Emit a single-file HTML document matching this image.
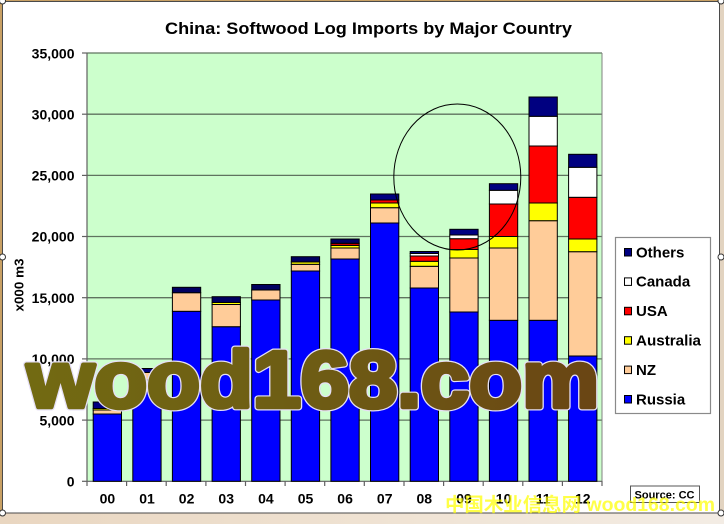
<!DOCTYPE html>
<html><head><meta charset="utf-8"><style>
html,body{margin:0;padding:0;background:#fff;}
svg{display:block;}
text{font-family:"Liberation Sans",Arial,sans-serif;}
</style></head><body>
<svg width="724" height="524" viewBox="0 0 724 524" xmlns="http://www.w3.org/2000/svg">
<defs>
<linearGradient id="beige" x1="0" y1="0" x2="1" y2="0">
<stop offset="0" stop-color="#e9d6c0"/><stop offset="0.5" stop-color="#efe2d2"/><stop offset="1" stop-color="#f3ece4"/>
</linearGradient>
<linearGradient id="wm" x1="27" y1="0" x2="599" y2="0" gradientUnits="userSpaceOnUse">
<stop offset="0" stop-color="#726a12"/><stop offset="0.5" stop-color="#6e5c14"/><stop offset="1" stop-color="#6a4514"/>
</linearGradient>
</defs>
<rect x="0" y="0" width="724" height="524" fill="url(#beige)"/>
<rect x="0" y="0" width="724" height="2" fill="#c8a064"/>
<rect x="0" y="0" width="2.5" height="514" fill="#c8a064"/>
<rect x="719" y="0" width="5" height="514" fill="#e2d3c0"/>
<rect x="2.5" y="1.5" width="717" height="511.5" fill="#ffffff" stroke="#4a4a4a" stroke-width="1"/>

<text x="368.5" y="34" text-anchor="middle" font-size="17" font-weight="bold" fill="#000" textLength="407" lengthAdjust="spacingAndGlyphs">China: Softwood Log Imports by Major Country</text>

<rect x="87" y="53" width="515" height="428.3" fill="#ccffcc"/>
<g stroke="#5f735f" stroke-width="1.3">
<line x1="87" y1="420.1" x2="602" y2="420.1"/>
<line x1="87" y1="358.9" x2="602" y2="358.9"/>
<line x1="87" y1="297.7" x2="602" y2="297.7"/>
<line x1="87" y1="236.5" x2="602" y2="236.5"/>
<line x1="87" y1="175.4" x2="602" y2="175.4"/>
<line x1="87" y1="114.2" x2="602" y2="114.2"/>
<line x1="87" y1="53" x2="602" y2="53"/>
</g>
<line x1="602" y1="53" x2="602" y2="481.3" stroke="#808080" stroke-width="1"/>
<line x1="87" y1="53" x2="87" y2="481.3" stroke="#606060" stroke-width="1.2"/>
<line x1="87" y1="481.3" x2="602" y2="481.3" stroke="#606060" stroke-width="1.2"/>
<g stroke="#606060" stroke-width="1.2">
<line x1="82" y1="481.3" x2="87" y2="481.3"/><line x1="82" y1="420.1" x2="87" y2="420.1"/><line x1="82" y1="358.9" x2="87" y2="358.9"/><line x1="82" y1="297.7" x2="87" y2="297.7"/><line x1="82" y1="236.5" x2="87" y2="236.5"/><line x1="82" y1="175.4" x2="87" y2="175.4"/><line x1="82" y1="114.2" x2="87" y2="114.2"/><line x1="82" y1="53" x2="87" y2="53"/>
<line x1="87" y1="481" x2="87" y2="486"/><line x1="126.6" y1="481" x2="126.6" y2="486"/><line x1="166.2" y1="481" x2="166.2" y2="486"/><line x1="205.9" y1="481" x2="205.9" y2="486"/><line x1="245.5" y1="481" x2="245.5" y2="486"/><line x1="285.1" y1="481" x2="285.1" y2="486"/><line x1="324.7" y1="481" x2="324.7" y2="486"/><line x1="364.3" y1="481" x2="364.3" y2="486"/><line x1="404" y1="481" x2="404" y2="486"/><line x1="443.6" y1="481" x2="443.6" y2="486"/><line x1="483.2" y1="481" x2="483.2" y2="486"/><line x1="522.8" y1="481" x2="522.8" y2="486"/><line x1="562.4" y1="481" x2="562.4" y2="486"/><line x1="602" y1="481" x2="602" y2="486"/>
</g>
<g font-size="14" font-weight="bold" text-anchor="end" fill="#000">
<text x="74.5" y="486.5">0</text>
<text x="74.5" y="425.3">5,000</text>
<text x="74.5" y="364.1">10,000</text>
<text x="74.5" y="302.9">15,000</text>
<text x="74.5" y="241.7">20,000</text>
<text x="74.5" y="180.6">25,000</text>
<text x="74.5" y="119.4">30,000</text>
<text x="74.5" y="58.3">35,000</text>
</g>
<text transform="translate(23.5,285) rotate(-90)" text-anchor="middle" font-size="13" font-weight="bold" textLength="53" lengthAdjust="spacingAndGlyphs">x000 m3</text>
<g font-size="14" font-weight="bold" text-anchor="middle" fill="#000">
<text x="107.4" y="503.5">00</text><text x="147" y="503.5">01</text><text x="186.6" y="503.5">02</text><text x="226.2" y="503.5">03</text><text x="265.9" y="503.5">04</text><text x="305.5" y="503.5">05</text><text x="345.1" y="503.5">06</text><text x="384.7" y="503.5">07</text><text x="424.3" y="503.5">08</text><text x="464" y="503.5">09</text><text x="503.6" y="503.5">10</text><text x="543.2" y="503.5">11</text><text x="582.8" y="503.5">12</text>
</g>

<g stroke="#000" stroke-width="1">
<rect x="93.2" y="414" width="28.3" height="67.3" fill="#0000ff"/>
<rect x="93.2" y="410" width="28.3" height="4" fill="#ffcc99"/>
<rect x="93.2" y="408.5" width="28.3" height="1.5" fill="#ffff00"/>
<rect x="93.2" y="402" width="28.3" height="6.5" fill="#000080"/>
<rect x="132.8" y="380" width="28.3" height="101.3" fill="#0000ff"/>
<rect x="132.8" y="372.5" width="28.3" height="7.5" fill="#ffcc99"/>
<rect x="132.8" y="368.5" width="28.3" height="4" fill="#000080"/>
<rect x="172.4" y="311.3" width="28.3" height="170" fill="#0000ff"/>
<rect x="172.4" y="292.7" width="28.3" height="18.6" fill="#ffcc99"/>
<rect x="172.4" y="287.3" width="28.3" height="5.4" fill="#000060"/>
<rect x="212.1" y="326.7" width="28.3" height="154.6" fill="#0000ff"/>
<rect x="212.1" y="304.5" width="28.3" height="22.2" fill="#ffcc99"/>
<rect x="212.1" y="302.5" width="28.3" height="2" fill="#ffff00"/>
<rect x="212.1" y="296.7" width="28.3" height="5.8" fill="#000060"/>
<rect x="251.7" y="300" width="28.3" height="181.3" fill="#0000ff"/>
<rect x="251.7" y="290" width="28.3" height="10" fill="#ffcc99"/>
<rect x="251.7" y="284.5" width="28.3" height="5.5" fill="#000060"/>
<rect x="291.3" y="271" width="28.3" height="210.3" fill="#0000ff"/>
<rect x="291.3" y="264.3" width="28.3" height="6.7" fill="#ffcc99"/>
<rect x="291.3" y="262" width="28.3" height="2.3" fill="#ffff00"/>
<rect x="291.3" y="256.7" width="28.3" height="5.3" fill="#000060"/>
<rect x="330.9" y="259" width="28.3" height="222.3" fill="#0000ff"/>
<rect x="330.9" y="248" width="28.3" height="11" fill="#ffcc99"/>
<rect x="330.9" y="245.5" width="28.3" height="2.5" fill="#ffff00"/>
<rect x="330.9" y="243.3" width="28.3" height="2.2" fill="#cc0000"/>
<rect x="330.9" y="239" width="28.3" height="4.3" fill="#000060"/>
<rect x="370.5" y="223" width="28.3" height="258.3" fill="#0000ff"/>
<rect x="370.5" y="207.7" width="28.3" height="15.3" fill="#ffcc99"/>
<rect x="370.5" y="203" width="28.3" height="4.7" fill="#ffff00"/>
<rect x="370.5" y="200" width="28.3" height="3" fill="#ff0000"/>
<rect x="370.5" y="194" width="28.3" height="6" fill="#000080"/>
<rect x="410.2" y="288" width="28.3" height="193.3" fill="#0000ff"/>
<rect x="410.2" y="266.3" width="28.3" height="21.7" fill="#ffcc99"/>
<rect x="410.2" y="261.3" width="28.3" height="5" fill="#ffff00"/>
<rect x="410.2" y="256" width="28.3" height="5.3" fill="#ff0000"/>
<rect x="410.2" y="253.5" width="28.3" height="2.5" fill="#ffffff"/>
<rect x="410.2" y="251.5" width="28.3" height="2" fill="#000080"/>
<rect x="449.8" y="312" width="28.3" height="169.3" fill="#0000ff"/>
<rect x="449.8" y="258" width="28.3" height="54" fill="#ffcc99"/>
<rect x="449.8" y="249.5" width="28.3" height="8.5" fill="#ffff00"/>
<rect x="449.8" y="238.7" width="28.3" height="10.8" fill="#ff0000"/>
<rect x="449.8" y="235" width="28.3" height="3.7" fill="#ffffff"/>
<rect x="449.8" y="229.3" width="28.3" height="5.7" fill="#000080"/>
<rect x="489.4" y="320.3" width="28.3" height="161" fill="#0000ff"/>
<rect x="489.4" y="248" width="28.3" height="72.3" fill="#ffcc99"/>
<rect x="489.4" y="236.5" width="28.3" height="11.5" fill="#ffff00"/>
<rect x="489.4" y="204" width="28.3" height="32.5" fill="#ff0000"/>
<rect x="489.4" y="190.3" width="28.3" height="13.7" fill="#ffffff"/>
<rect x="489.4" y="183.7" width="28.3" height="6.6" fill="#000080"/>
<rect x="529" y="320.3" width="28.3" height="161" fill="#0000ff"/>
<rect x="529" y="220.7" width="28.3" height="99.6" fill="#ffcc99"/>
<rect x="529" y="203" width="28.3" height="17.7" fill="#ffff00"/>
<rect x="529" y="146" width="28.3" height="57" fill="#ff0000"/>
<rect x="529" y="116.3" width="28.3" height="29.7" fill="#ffffff"/>
<rect x="529" y="97" width="28.3" height="19.3" fill="#000080"/>
<rect x="568.6" y="356" width="28.3" height="125.3" fill="#0000ff"/>
<rect x="568.6" y="251.7" width="28.3" height="104.3" fill="#ffcc99"/>
<rect x="568.6" y="239" width="28.3" height="12.7" fill="#ffff00"/>
<rect x="568.6" y="197.3" width="28.3" height="41.7" fill="#ff0000"/>
<rect x="568.6" y="167.3" width="28.3" height="30" fill="#ffffff"/>
<rect x="568.6" y="154.3" width="28.3" height="13" fill="#000080"/>
</g>

<ellipse cx="457.3" cy="177" rx="63.5" ry="73" fill="none" stroke="#000" stroke-width="1"/>

<rect x="615.5" y="237.5" width="95" height="176" fill="#fff" stroke="#8a8a8a" stroke-width="1.2"/>
<g stroke="#000" stroke-width="1">
<rect x="624.5" y="248.5" width="7" height="7.5" fill="#000080"/>
<rect x="624.5" y="277.9" width="7" height="7.5" fill="#ffffff"/>
<rect x="624.5" y="307.3" width="7" height="7.5" fill="#ff0000"/>
<rect x="624.5" y="336.7" width="7" height="7.5" fill="#ffff00"/>
<rect x="624.5" y="366.1" width="7" height="7.5" fill="#ffcc99"/>
<rect x="624.5" y="395.5" width="7" height="7.5" fill="#0000ff"/>
</g>
<g font-size="15" font-weight="bold" fill="#000">
<text x="636" y="257.3">Others</text>
<text x="636" y="286.7">Canada</text>
<text x="636" y="316.1">USA</text>
<text x="636" y="345.5" textLength="65" lengthAdjust="spacingAndGlyphs">Australia</text>
<text x="636" y="374.9">NZ</text>
<text x="636" y="404.3">Russia</text>
</g>

<rect x="630.5" y="486" width="69" height="16.5" fill="#fff" stroke="#555" stroke-width="1"/>
<text x="664.5" y="498.3" text-anchor="middle" font-size="11" font-weight="bold" textLength="60" lengthAdjust="spacingAndGlyphs">Source: CC</text>

<text x="27" y="407" font-size="80" font-weight="bold" fill="none" stroke="#e6e0f6" stroke-width="7" stroke-linejoin="round" textLength="572" lengthAdjust="spacingAndGlyphs">wood168.com</text>
<text x="27" y="407" font-size="80" font-weight="bold" fill="url(#wm)" stroke="url(#wm)" stroke-width="4.6" stroke-linejoin="round" textLength="572" lengthAdjust="spacingAndGlyphs">wood168.com</text>

<text x="445" y="511" font-size="19" font-weight="bold" fill="#ffff00" fill-opacity="0.72" textLength="270" lengthAdjust="spacingAndGlyphs" style="font-family:'Liberation Sans','Noto Sans CJK SC',sans-serif">中国木业信息网 wood168.com</text>

<g fill="#fff" stroke="#333" stroke-width="1">
<circle cx="2.5" cy="257" r="3"/>
<circle cx="2.5" cy="513" r="3"/>
<circle cx="721" cy="513" r="3"/>
<circle cx="721" cy="257" r="3"/>
<circle cx="721" cy="1" r="3"/>
<circle cx="2.5" cy="1" r="3"/>
</g>
</svg>
</body></html>
